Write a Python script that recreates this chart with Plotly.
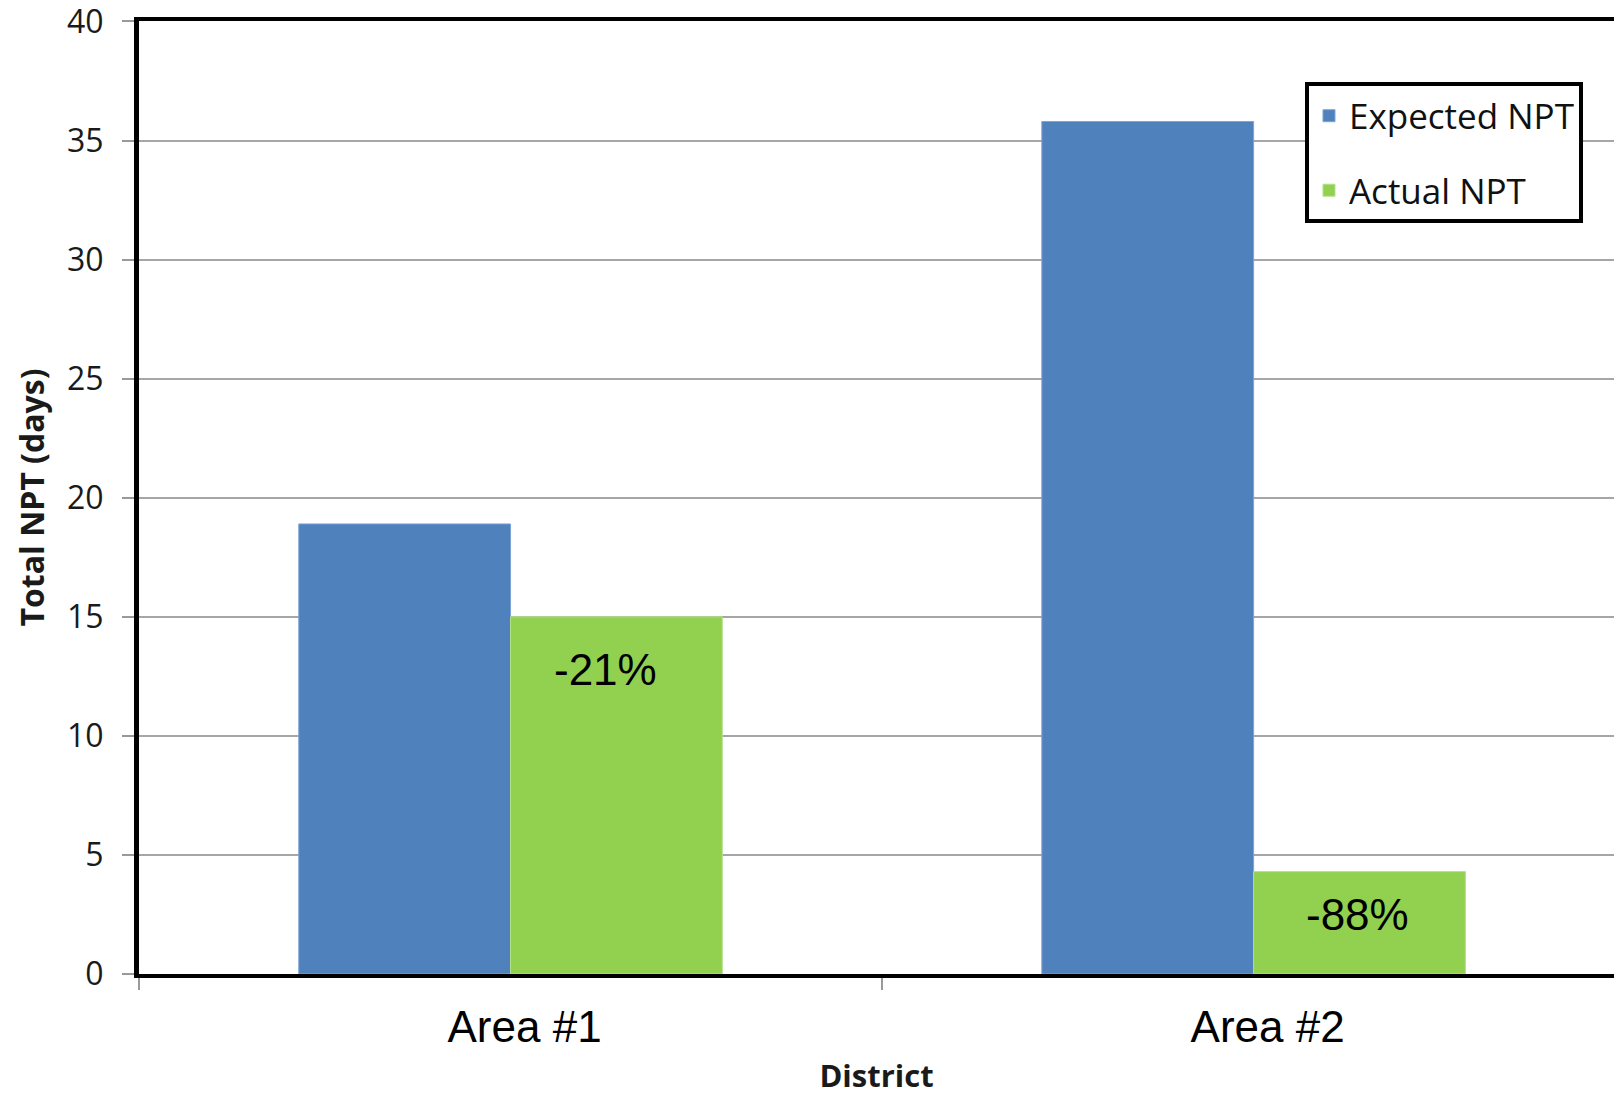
import plotly.graph_objects as go

categories = ["Area #1", "Area #2"]
expected_npt = [18.9, 35.8]
actual_npt = [15.0, 4.3]
change_labels = ["-21%", "-88%"]

fig = go.Figure()
fig.add_trace(go.Bar(
    x=categories, y=expected_npt, name="Expected NPT",
    marker=dict(color="#4F81BD", line=dict(color="#7FA3D6", width=1)),
    legendgroup="a",
))
fig.add_trace(go.Bar(
    x=categories, y=actual_npt, name="Actual NPT",
    marker=dict(color="#92D050", line=dict(color="#B5E08A", width=1)),
    legendgroup="b",
))

# annotation placement (layout only): (y position, x pixel shift)
label_pos = [(12.8, 95), (2.5, 104)]
for c, t, (yv, xs) in zip(categories, change_labels, label_pos):
    fig.add_annotation(
        x=c, y=yv, text=t, showarrow=False, xref="x", yref="y",
        xshift=xs, font=dict(family="Liberation Sans, Arial", size=44, color="black"),
    )

fig.update_layout(
    width=1614, height=1096,
    margin=dict(l=139, r=0, t=21, b=122, autoexpand=False),
    plot_bgcolor="white", paper_bgcolor="white",
    barmode="group", bargap=0.43, bargroupgap=0,
    showlegend=True,
    legend=dict(
        x=0.7905, y=0.9355, xanchor="left", yanchor="top",
        bordercolor="black", borderwidth=4, bgcolor="white",
        font=dict(family="Open Sans", size=35, color="#111111"),
        tracegroupgap=26,
    ),
    xaxis=dict(
        range=[-0.5, 1.485],
        showline=True, linecolor="black", linewidth=4, mirror=True,
        ticks="outside", tickson="boundaries", ticklen=12, tickcolor="#999999", tickwidth=2,
        tickfont=dict(family="Liberation Sans, Arial", size=44, color="black"),
        ticklabelshift=14, ticklabelstandoff=11,
        title=dict(text="<b>District</b>", font=dict(family="Open Sans", size=31, color="#1a1a1a"), standoff=28),
        showgrid=False,
    ),
    yaxis=dict(
        range=[0, 40.02], tickvals=[0, 5, 10, 15, 20, 25, 30, 35, 40],
        showline=True, linecolor="black", linewidth=5,
        showgrid=True, gridcolor="#A6A6A6", gridwidth=2,
        ticks="outside", ticklen=12, tickcolor="#999999", tickwidth=2,
        tickfont=dict(family="Open Sans", size=32, color="#1a1a1a"),
        ticklabelstandoff=12, ticklabeloverflow="allow",
        title=dict(text="<b>Total NPT (days)</b>", font=dict(family="Open Sans", size=32, color="#1a1a1a"), standoff=14),
        zeroline=False,
    ),
)

fig.write_html("out.html")
